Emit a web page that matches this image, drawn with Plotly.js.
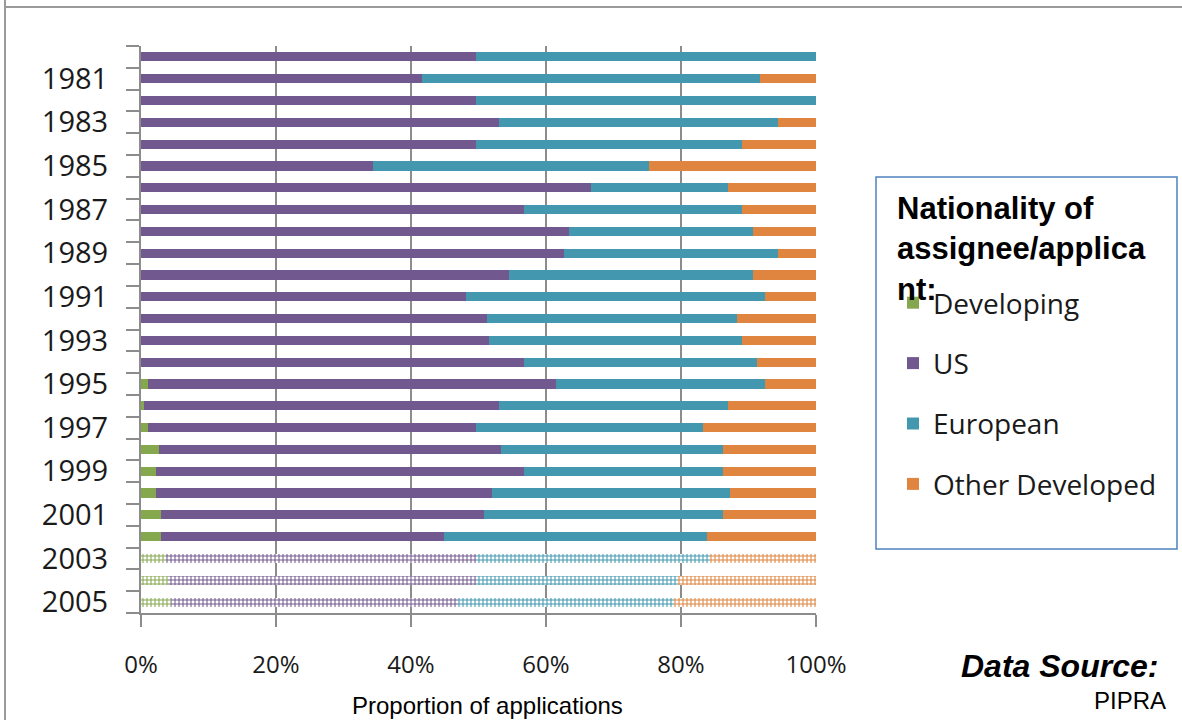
<!DOCTYPE html>
<html>
<head>
<meta charset="utf-8">
<script src="https://cdn.plot.ly/plotly-3.0.1.min.js"></script>
<style>
  html, body { margin: 0; padding: 0; background: #ffffff; }
  #chart { width: 1182px; height: 720px; }
</style>
</head>
<body>
<div id="chart"></div>
<script>
const years = [1980, 1981, 1982, 1983, 1984, 1985, 1986, 1987, 1988, 1989,
               1990, 1991, 1992, 1993, 1994, 1995, 1996, 1997, 1998, 1999,
               2000, 2001, 2002, 2003, 2004, 2005];
const developing = [0, 0, 0, 0, 0, 0, 0, 0, 0, 0,
                    0, 0, 0, 0, 0, 1.0, 0.4, 1.0, 2.6, 2.2,
                    2.2, 3.0, 3.0, 3.7, 4.0, 4.4];
const us = [49.7, 41.6, 49.7, 53.0, 49.7, 34.3, 66.6, 56.7, 63.4, 62.6,
            54.5, 48.2, 51.2, 51.6, 56.7, 60.5, 52.6, 48.7, 50.8, 54.5,
            49.8, 47.8, 41.9, 46.0, 45.7, 42.5];
const european = [50.3, 50.1, 50.3, 41.3, 39.4, 40.9, 20.3, 32.4, 27.2, 31.7,
                  36.1, 44.2, 37.1, 37.5, 34.6, 30.9, 33.9, 33.5, 32.8, 29.5,
                  35.3, 35.4, 39.0, 34.6, 29.9, 32.0];
const otherDeveloped = [0, 8.3, 0, 5.7, 10.9, 24.8, 13.1, 10.9, 9.4, 5.7,
                        9.4, 7.6, 11.7, 10.9, 8.7, 7.6, 13.1, 16.8, 13.8, 13.8,
                        12.7, 13.8, 16.1, 15.7, 20.4, 21.1];
const projectedYears = [2003, 2004, 2005];
const seriesNames = ["Developing", "US", "European", "Other Developed"];
const seriesColors = ["#85a84f", "#71598f", "#4398b0", "#df853f"];
const labelYears = [1981, 1983, 1985, 1987, 1989, 1991, 1993, 1995, 1997, 1999, 2001, 2003, 2005];
const xTicks = [0, 20, 40, 60, 80, 100];

const seriesValues = [developing, us, european, otherDeveloped];
const patternShapes = years.map(y => projectedYears.includes(y) ? "+" : "");

const traces = seriesValues.map((vals, i) => ({
  type: "bar",
  orientation: "h",
  name: seriesNames[i],
  legendgroup: "g" + i,
  x: vals,
  y: years,
  width: 0.42,
  marker: {
    color: seriesColors[i],
    line: { width: 0 },
    pattern: {
      shape: patternShapes,
      fillmode: "replace",
      bgcolor: "#ffffff",
      size: 4,
      solidity: 0.45
    }
  },
  hoverinfo: "skip"
}));

const L = 141, R = 816, T = 46, B = 613;
const W = R - L, H = B - T;
const px = v => (v - L) / W;
const py = v => (B - v) / H;

const boundaries = years.map(y => y - 0.5).concat([years[years.length - 1] + 0.5]);

const layout = {
  width: 1182,
  height: 720,
  margin: { l: L, r: 1182 - R, t: T, b: 720 - B },
  paper_bgcolor: "#ffffff",
  plot_bgcolor: "#ffffff",
  barmode: "stack",
  showlegend: true,
  xaxis: {
    range: [0, 100],
    tickvals: xTicks,
    ticktext: xTicks.map(v => v + "%"),
    showgrid: true,
    gridcolor: "#8c8c8c",
    gridwidth: 2,
    zeroline: false,
    showline: true,
    linecolor: "#8c8c8c",
    linewidth: 2,
    ticks: "outside",
    ticklen: 12,
    tickwidth: 2,
    tickcolor: "#8c8c8c",
    ticklabelstandoff: 17,
    tickfont: { family: "Open Sans, sans-serif", size: 24, color: "#1a1a1a" },
    fixedrange: true
  },
  yaxis: {
    range: [2005.5, 1979.5],
    tickvals: labelYears,
    ticktext: labelYears.map(String),
    ticks: "",
    showgrid: false,
    zeroline: false,
    showline: true,
    linecolor: "#8c8c8c",
    linewidth: 2,
    ticklabelstandoff: 25,
    tickfont: { family: "Open Sans, sans-serif", size: 29, color: "#1a1a1a" },
    minor: {
      tickmode: "array",
      tickvals: boundaries,
      ticks: "outside",
      ticklen: 13,
      tickwidth: 2,
      tickcolor: "#8c8c8c",
      showgrid: false
    },
    fixedrange: true
  },
  legend: {
    x: px(893),
    y: py(278),
    xanchor: "left",
    yanchor: "top",
    bgcolor: "rgba(0,0,0,0)",
    borderwidth: 0,
    tracegroupgap: 21,
    traceorder: "grouped",
    font: { family: "Open Sans, sans-serif", size: 28, color: "#1a1a1a" }
  },
  shapes: [
    { type: "rect", xref: "paper", yref: "paper",
      x0: px(876), x1: px(1177), y0: py(549), y1: py(177),
      line: { color: "#4f81bd", width: 1.5 }, fillcolor: "rgba(0,0,0,0)", layer: "below" },
    { type: "line", xref: "paper", yref: "paper",
      x0: px(5), x1: px(1182), y0: py(7), y1: py(7),
      line: { color: "#9a9a9a", width: 2 } },
    { type: "line", xref: "paper", yref: "paper",
      x0: px(5), x1: px(5), y0: py(0), y1: py(720),
      line: { color: "#9a9a9a", width: 2 } }
  ],
  annotations: [
    { xref: "paper", yref: "paper", x: px(895), y: py(189),
      xanchor: "left", yanchor: "top", align: "left", showarrow: false,
      text: "<b>Nationality of<br>assignee/applica<br>nt:</b>",
      font: { family: "Liberation Sans, Arial, sans-serif", size: 31, color: "#000000" } },
    { xref: "paper", yref: "paper", x: px(487), y: py(705),
      xanchor: "center", yanchor: "middle", showarrow: false,
      text: "Proportion of applications",
      font: { family: "Liberation Sans, Arial, sans-serif", size: 24, color: "#000000" } },
    { xref: "paper", yref: "paper", x: px(1160), y: py(666),
      xanchor: "right", yanchor: "middle", showarrow: false,
      text: "<b><i>Data Source:</i></b>",
      font: { family: "Liberation Sans, Arial, sans-serif", size: 32, color: "#000000" } },
    { xref: "paper", yref: "paper", x: px(1168), y: py(700),
      xanchor: "right", yanchor: "middle", showarrow: false,
      text: "PIPRA",
      font: { family: "Liberation Sans, Arial, sans-serif", size: 24, color: "#000000" } }
  ]
};

Plotly.newPlot("chart", traces, layout, { staticPlot: true, displayModeBar: false });
</script>
</body>
</html>
